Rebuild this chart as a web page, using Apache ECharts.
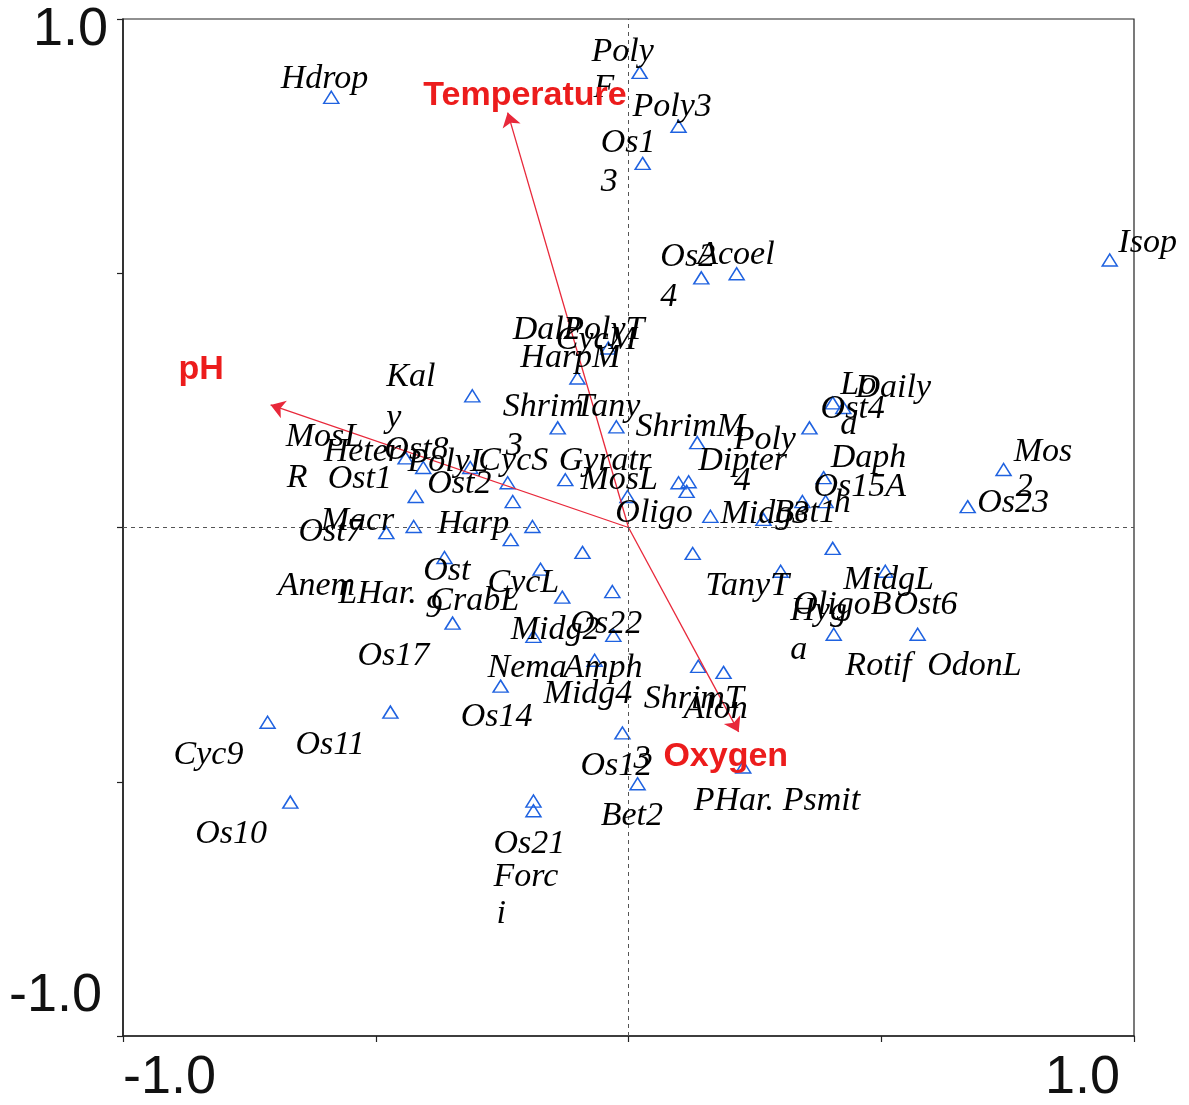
<!DOCTYPE html>
<html>
<head>
<meta charset="utf-8">
<script src="https://cdn.jsdelivr.net/npm/echarts@6/dist/echarts.min.js"></script>
<style>
  html, body { margin: 0; padding: 0; background: #fff; }
  #chart { width: 1189px; height: 1105px; }
</style>
</head>
<body>
<div id="chart"></div>
<script>
// ---- Data (CCA ordination scores) ----
const speciesPoints = [
  [-0.588, 0.846], [0.022, 0.895], [0.099, 0.789], [0.028, 0.716], [0.144, 0.491],
  [0.214, 0.499], [0.952, 0.526], [0.742, 0.114], [0.671, 0.041], [-0.309, 0.259],
  [-0.040, 0.353], [-0.101, 0.294], [-0.140, 0.196], [-0.024, 0.198], [0.136, 0.167],
  [-0.125, 0.094], [-0.002, 0.061], [0.099, 0.088], [0.119, 0.090], [0.115, 0.071],
  [0.162, 0.022], [0.358, 0.196], [0.404, 0.245], [0.425, 0.236], [0.386, 0.098],
  [0.390, 0.051], [0.344, 0.051], [0.267, 0.016], [-0.441, 0.137], [-0.406, 0.118],
  [-0.313, 0.118], [-0.239, 0.088], [-0.229, 0.051], [-0.421, 0.061], [-0.425, 0.002],
  [-0.479, -0.010], [-0.190, 0.002], [-0.233, -0.024], [-0.091, -0.049], [-0.174, -0.082],
  [-0.131, -0.137], [-0.032, -0.126], [-0.364, -0.059], [-0.348, -0.188], [-0.188, -0.214],
  [-0.030, -0.212], [-0.067, -0.261], [-0.253, -0.312], [0.127, -0.051], [0.404, -0.041],
  [0.301, -0.086], [0.508, -0.086], [0.406, -0.210], [0.572, -0.210], [0.138, -0.273],
  [0.188, -0.285], [-0.012, -0.404], [0.018, -0.504], [-0.188, -0.538], [-0.188, -0.557],
  [0.227, -0.471], [-0.471, -0.363], [-0.714, -0.383], [-0.669, -0.540]
];

// label anchor (left edge, vertical middle) and text
const speciesLabels = [
  [-0.688, 0.881, 'Hdrop'], [-0.073, 0.934, 'Poly'], [-0.069, 0.864, 'F'],
  [0.008, 0.826, 'Poly3'], [-0.055, 0.756, 'Os1'], [-0.055, 0.679, '3'],
  [0.063, 0.532, 'Os2'], [0.063, 0.453, '4'], [0.136, 0.536, 'Acoel'],
  [0.969, 0.559, 'Isop'], [0.762, 0.149, 'Mos'], [0.766, 0.080, '2'],
  [0.690, 0.049, 'Os23'], [-0.479, 0.296, 'Kal'], [-0.479, 0.216, 'y'],
  [-0.678, 0.177, 'MosL'], [-0.676, 0.098, 'R'], [-0.603, 0.149, 'Heter'],
  [-0.483, 0.153, 'Ost8'], [-0.595, 0.096, 'Ost1'], [-0.437, 0.128, 'PolyL'],
  [-0.398, 0.086, 'Ost2'], [-0.297, 0.130, 'CycS'], [-0.609, 0.012, 'Macr'],
  [-0.653, -0.008, 'Ost7'], [-0.378, 0.006, 'Harp'], [-0.694, -0.116, 'Anem'],
  [-0.574, -0.131, 'LHar.'], [-0.406, -0.086, 'Ost'], [-0.402, -0.159, '9'],
  [-0.392, -0.145, 'CrabL'], [-0.279, -0.110, 'CycL'], [-0.536, -0.253, 'Os17'],
  [-0.659, -0.428, 'Os11'], [-0.900, -0.447, 'Cyc9'], [-0.857, -0.603, 'Os10'],
  [-0.332, -0.373, 'Os14'], [-0.279, -0.277, 'Nema'], [-0.129, -0.277, 'Amph'],
  [-0.233, -0.202, 'Midg2'], [-0.115, -0.190, 'Os22'], [-0.168, -0.328, 'Midg4'],
  [0.030, -0.338, 'ShrimT'], [0.109, -0.357, 'Alon'], [-0.095, -0.469, 'Os12'],
  [0.010, -0.455, '3'], [-0.055, -0.567, 'Bet2'], [-0.267, -0.622, 'Os21'],
  [-0.267, -0.687, 'Forc'], [-0.261, -0.760, 'i'], [0.129, -0.538, 'PHar.'],
  [0.305, -0.538, 'Psmit'], [0.152, -0.116, 'TanyT'], [0.425, -0.104, 'MidgL'],
  [0.326, -0.153, 'OligoB'], [0.524, -0.153, 'Ost6'], [0.320, -0.165, 'Hyg'],
  [0.320, -0.241, 'a'], [0.429, -0.273, 'Rotif'], [0.591, -0.273, 'OdonL'],
  [0.138, 0.130, 'Dipter'], [0.208, 0.171, 'Poly'], [0.208, 0.092, '4'],
  [0.014, 0.198, 'ShrimM'], [0.182, 0.026, 'Midg3'], [0.287, 0.029, 'Bet1'],
  [0.400, 0.137, 'Daph'], [0.366, 0.080, 'Os15A'], [0.406, 0.049, 'h'],
  [0.419, 0.281, 'Lo'], [0.419, 0.202, 'd'], [0.449, 0.275, 'Daily'],
  [0.380, 0.232, 'Ost4'], [-0.138, 0.130, 'Gyratr'], [-0.095, 0.094, 'MosL'],
  [-0.026, 0.029, 'Oligo'], [-0.249, 0.236, 'Shrim'], [-0.243, 0.161, '3'],
  [-0.105, 0.236, 'Tany'], [-0.229, 0.389, 'Dal2'], [-0.129, 0.389, 'PolyT'],
  [-0.144, 0.369, 'CycM'], [-0.214, 0.334, 'HarpM']
];

const envNames = ['Temperature', 'pH', 'Oxygen'];
const envTips = [[-0.239, 0.816], [-0.708, 0.241], [0.218, -0.402]];
const envLabelPos = [[-0.406, 0.850], [-0.890, 0.310], [0.069, -0.451]];

const tickValues = [-1, 1];
const tickLabels = ['-1.0', '1.0'];

// ---- Chart ----
const chart = echarts.init(document.getElementById('chart'), null, { renderer: 'canvas' });

const tickFont = "'Liberation Sans Narrow', 'Liberation Sans', Arial, sans-serif";
const labelFor = v => {
  const i = tickValues.indexOf(Math.round(v * 1000) / 1000);
  return i >= 0 ? tickLabels[i] : '';
};

const option = {
  backgroundColor: '#ffffff',
  animation: false,
  grid: {
    left: 123, right: 55, top: 19, bottom: 67,
    show: true, borderColor: '#222', borderWidth: 1.2, backgroundColor: 'transparent'
  },
  xAxis: {
    type: 'value', min: -1, max: 1, interval: 0.5,
    axisLine: { show: true, onZero: false, lineStyle: { color: '#222', width: 1.6 } },
    axisTick: { show: true, length: 6, lineStyle: { color: '#222', width: 1.2 } },
    splitLine: { show: false },
    axisLabel: {
      show: true, margin: 15, color: '#111', fontFamily: tickFont, fontSize: 54,
      alignMinLabel: 'left', alignMaxLabel: 'right',
      formatter: v => {
        const t = labelFor(v);
        if (t === '1.0') return '{r|' + t + '}';
        return t;
      },
      rich: { r: { fontFamily: tickFont, fontSize: 54, color: '#111', padding: [0, 14, 0, 0] } }
    }
  },
  yAxis: {
    type: 'value', min: -1, max: 1, interval: 0.5,
    axisLine: { show: true, onZero: false, lineStyle: { color: '#222', width: 1.6 } },
    axisTick: { show: true, length: 6, lineStyle: { color: '#222', width: 1.2 } },
    splitLine: { show: false },
    axisLabel: {
      show: true, margin: 15, color: '#111', fontFamily: tickFont, fontSize: 54,
      formatter: v => {
        const t = labelFor(v);
        if (t === '1.0') return '{t|' + t + '}';
        if (t === '-1.0') return '{b|' + t + '}';
        return t;
      },
      rich: {
        t: { fontFamily: tickFont, fontSize: 54, color: '#111', padding: [22, 0, 0, 0] },
        b: { fontFamily: tickFont, fontSize: 54, color: '#111', padding: [0, 6, 80, 0] }
      }
    }
  },
  series: [
    {
      // dashed zero lines
      type: 'scatter', data: [], silent: true,
      markLine: {
        silent: true, symbol: 'none', label: { show: false },
        lineStyle: { type: [4, 4], color: '#555', width: 1 },
        data: [{ xAxis: 0 }, { yAxis: 0 }]
      }
    },
    {
      // environmental arrows
      type: 'lines', coordinateSystem: 'cartesian2d', silent: true, z: 4,
      symbol: ['none', 'arrow'], symbolSize: [0, 14],
      lineStyle: { color: '#e8283a', width: 1.3, opacity: 1 },
      data: envTips.map(t => ({ coords: [[0, 0], t] }))
    },
    {
      // species triangles
      type: 'scatter', silent: true, z: 3,
      symbol: 'triangle', symbolSize: [15, 12],
      itemStyle: { color: 'rgba(255,255,255,0)', borderColor: '#1f62e0', borderWidth: 1.5, opacity: 1 },
      data: speciesPoints
    },
    {
      // species labels
      type: 'scatter', silent: true, z: 5,
      symbolSize: 0,
      itemStyle: { opacity: 1 },
      label: {
        show: true, position: 'right', distance: 0,
        formatter: p => p.value[2],
        fontFamily: "'Liberation Serif', 'Times New Roman', serif",
        fontStyle: 'italic', fontSize: 34, color: '#000'
      },
      labelLayout: { hideOverlap: false },
      data: speciesLabels
    },
    {
      // environmental labels
      type: 'scatter', silent: true, z: 6,
      symbolSize: 0,
      itemStyle: { opacity: 1 },
      label: {
        show: true, position: 'right', distance: 0,
        formatter: p => p.value[2],
        fontFamily: "'Liberation Sans', Arial, sans-serif",
        fontWeight: 'bold', fontSize: 34, color: '#ec1c1c'
      },
      data: envLabelPos.map((p, i) => [p[0], p[1], envNames[i]])
    }
  ]
};
chart.setOption(option);
</script>
</body>
</html>
